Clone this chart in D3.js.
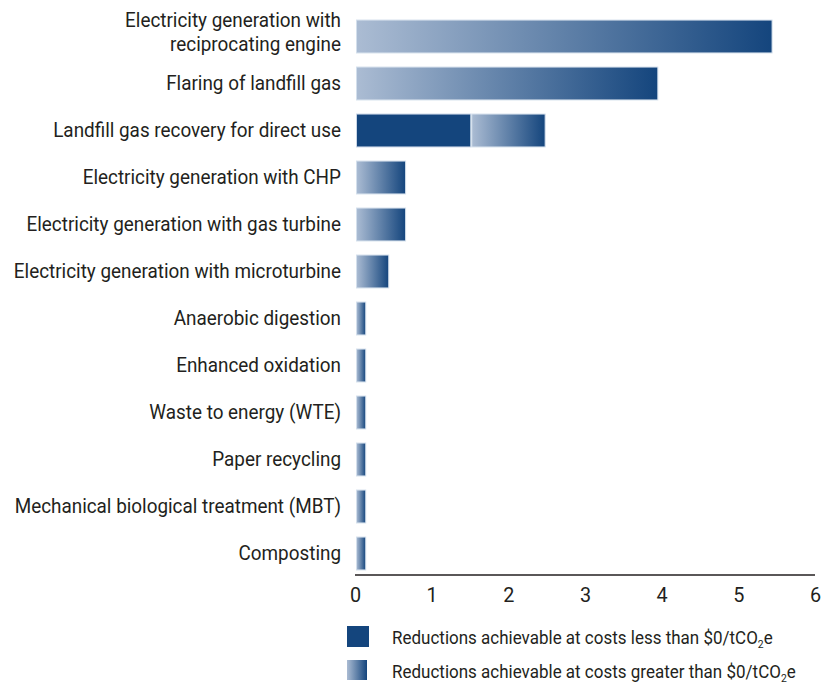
<!DOCTYPE html>
<html><head><meta charset="utf-8">
<script src="https://cdn.jsdelivr.net/npm/d3@7"></script>
<style>body{margin:0;background:#fff}text{font-family:Roboto,"Liberation Sans",sans-serif;fill:#231f20}</style>
</head><body>
<svg id="c" width="822" height="688"></svg>
<script>
const categories = [
  ["Electricity generation with","reciprocating engine"],
  ["Flaring of landfill gas"],
  ["Landfill gas recovery for direct use"],
  ["Electricity generation with CHP"],
  ["Electricity generation with gas turbine"],
  ["Electricity generation with microturbine"],
  ["Anaerobic digestion"],
  ["Enhanced oxidation"],
  ["Waste to energy (WTE)"],
  ["Paper recycling"],
  ["Mechanical biological treatment (MBT)"],
  ["Composting"]
];
const lessThanZero = [0, 0, 1.51, 0, 0, 0, 0, 0, 0, 0, 0, 0];
const greaterThanZero = [5.44, 3.95, 0.97, 0.66, 0.66, 0.44, 0.14, 0.14, 0.14, 0.14, 0.14, 0.14];
const xTicks = [0,1,2,3,4,5,6];
const legendLabels = ["Reductions achievable at costs less than $0/tCO", "Reductions achievable at costs greater than $0/tCO"];

const svg = d3.select("#c");
const defs = svg.append("defs");
const g = defs.append("linearGradient").attr("id","grad").attr("x1","0%").attr("x2","100%").attr("y1","0%").attr("y2","0%");
g.append("stop").attr("offset","0%").attr("stop-color","#abbcd3");
g.append("stop").attr("offset","100%").attr("stop-color","#14457d");
const dark = "#14457d";

const x = d3.scaleLinear().domain([0,6]).range([355,815]);
const y = d3.scaleBand().domain(d3.range(categories.length)).range([13,577]).paddingInner(0.3).paddingOuter(0.15);

// measure horizontal compression to mimic condensed font
const probe = svg.append("text").attr("font-size",20).text("Landfill gas recovery for direct use");
const sx = 288 / probe.node().getComputedTextLength();
probe.remove();

const rows = svg.append("g");
const labels = svg.append("g").attr("transform", `translate(341,0) scale(${sx},1)`);
categories.forEach((c,i)=>{
  const yc = y(i) + y.bandwidth()/2;
  const x0 = x(0)+1.5;
  if (lessThanZero[i] > 0) {
    rows.append("rect").attr("x", x0).attr("y", y(i)).attr("width", x(lessThanZero[i]) - x(0) - 1.5).attr("height", y.bandwidth())
      .attr("fill", dark).attr("stroke","#c9d6e6").attr("stroke-width",1);
  }
  const s = lessThanZero[i] > 0 ? x(lessThanZero[i]) + 1 : x0;
  rows.append("rect").attr("x", s).attr("y", y(i)).attr("width", x(lessThanZero[i] + greaterThanZero[i]) - s).attr("height", y.bandwidth())
    .attr("fill", "url(#grad)").attr("stroke","#d3dfec").attr("stroke-width",1);
  const t = labels.append("text").attr("x", 0).attr("text-anchor","end").attr("font-size", 20);
  if (c.length === 2) {
    t.append("tspan").attr("x",0).attr("y", yc - 9).text(c[0]);
    t.append("tspan").attr("x",0).attr("y", yc + 15).text(c[1]);
  } else {
    t.attr("y", yc + 6.5).text(c[0]);
  }
});

// axis
const ax = svg.append("g").attr("transform","translate(0,575)")
  .call(d3.axisBottom(x).tickValues(xTicks).tickSize(0).tickPadding(12).tickFormat(d3.format("d")));
ax.select(".domain").attr("stroke","#231f20").attr("stroke-width",1.5).attr("d","M355,0H815");
ax.selectAll("text").attr("font-size",21).attr("font-family",'Roboto,"Liberation Sans",sans-serif').attr("fill","#231f20")
  .attr("transform", `scale(${sx},1)`);

// legend
const lg = svg.append("g");
[0,1].forEach(i=>{
  const yy = 626 + i*34;
  lg.append("rect").attr("x",347).attr("y",yy).attr("width",i?20:22).attr("height",i?20:21)
    .attr("fill", i ? "url(#grad)" : dark);
  const tg = lg.append("g").attr("transform", `translate(392,${yy+18}) scale(${sx},1)`);
  const t = tg.append("text").attr("x",0).attr("y",0).attr("font-size",18);
  t.append("tspan").text(legendLabels[i]);
  t.append("tspan").attr("dy",4).attr("font-size",11).text("2");
  t.append("tspan").attr("dy",-4).text("e");
});
</script>
</body></html>
